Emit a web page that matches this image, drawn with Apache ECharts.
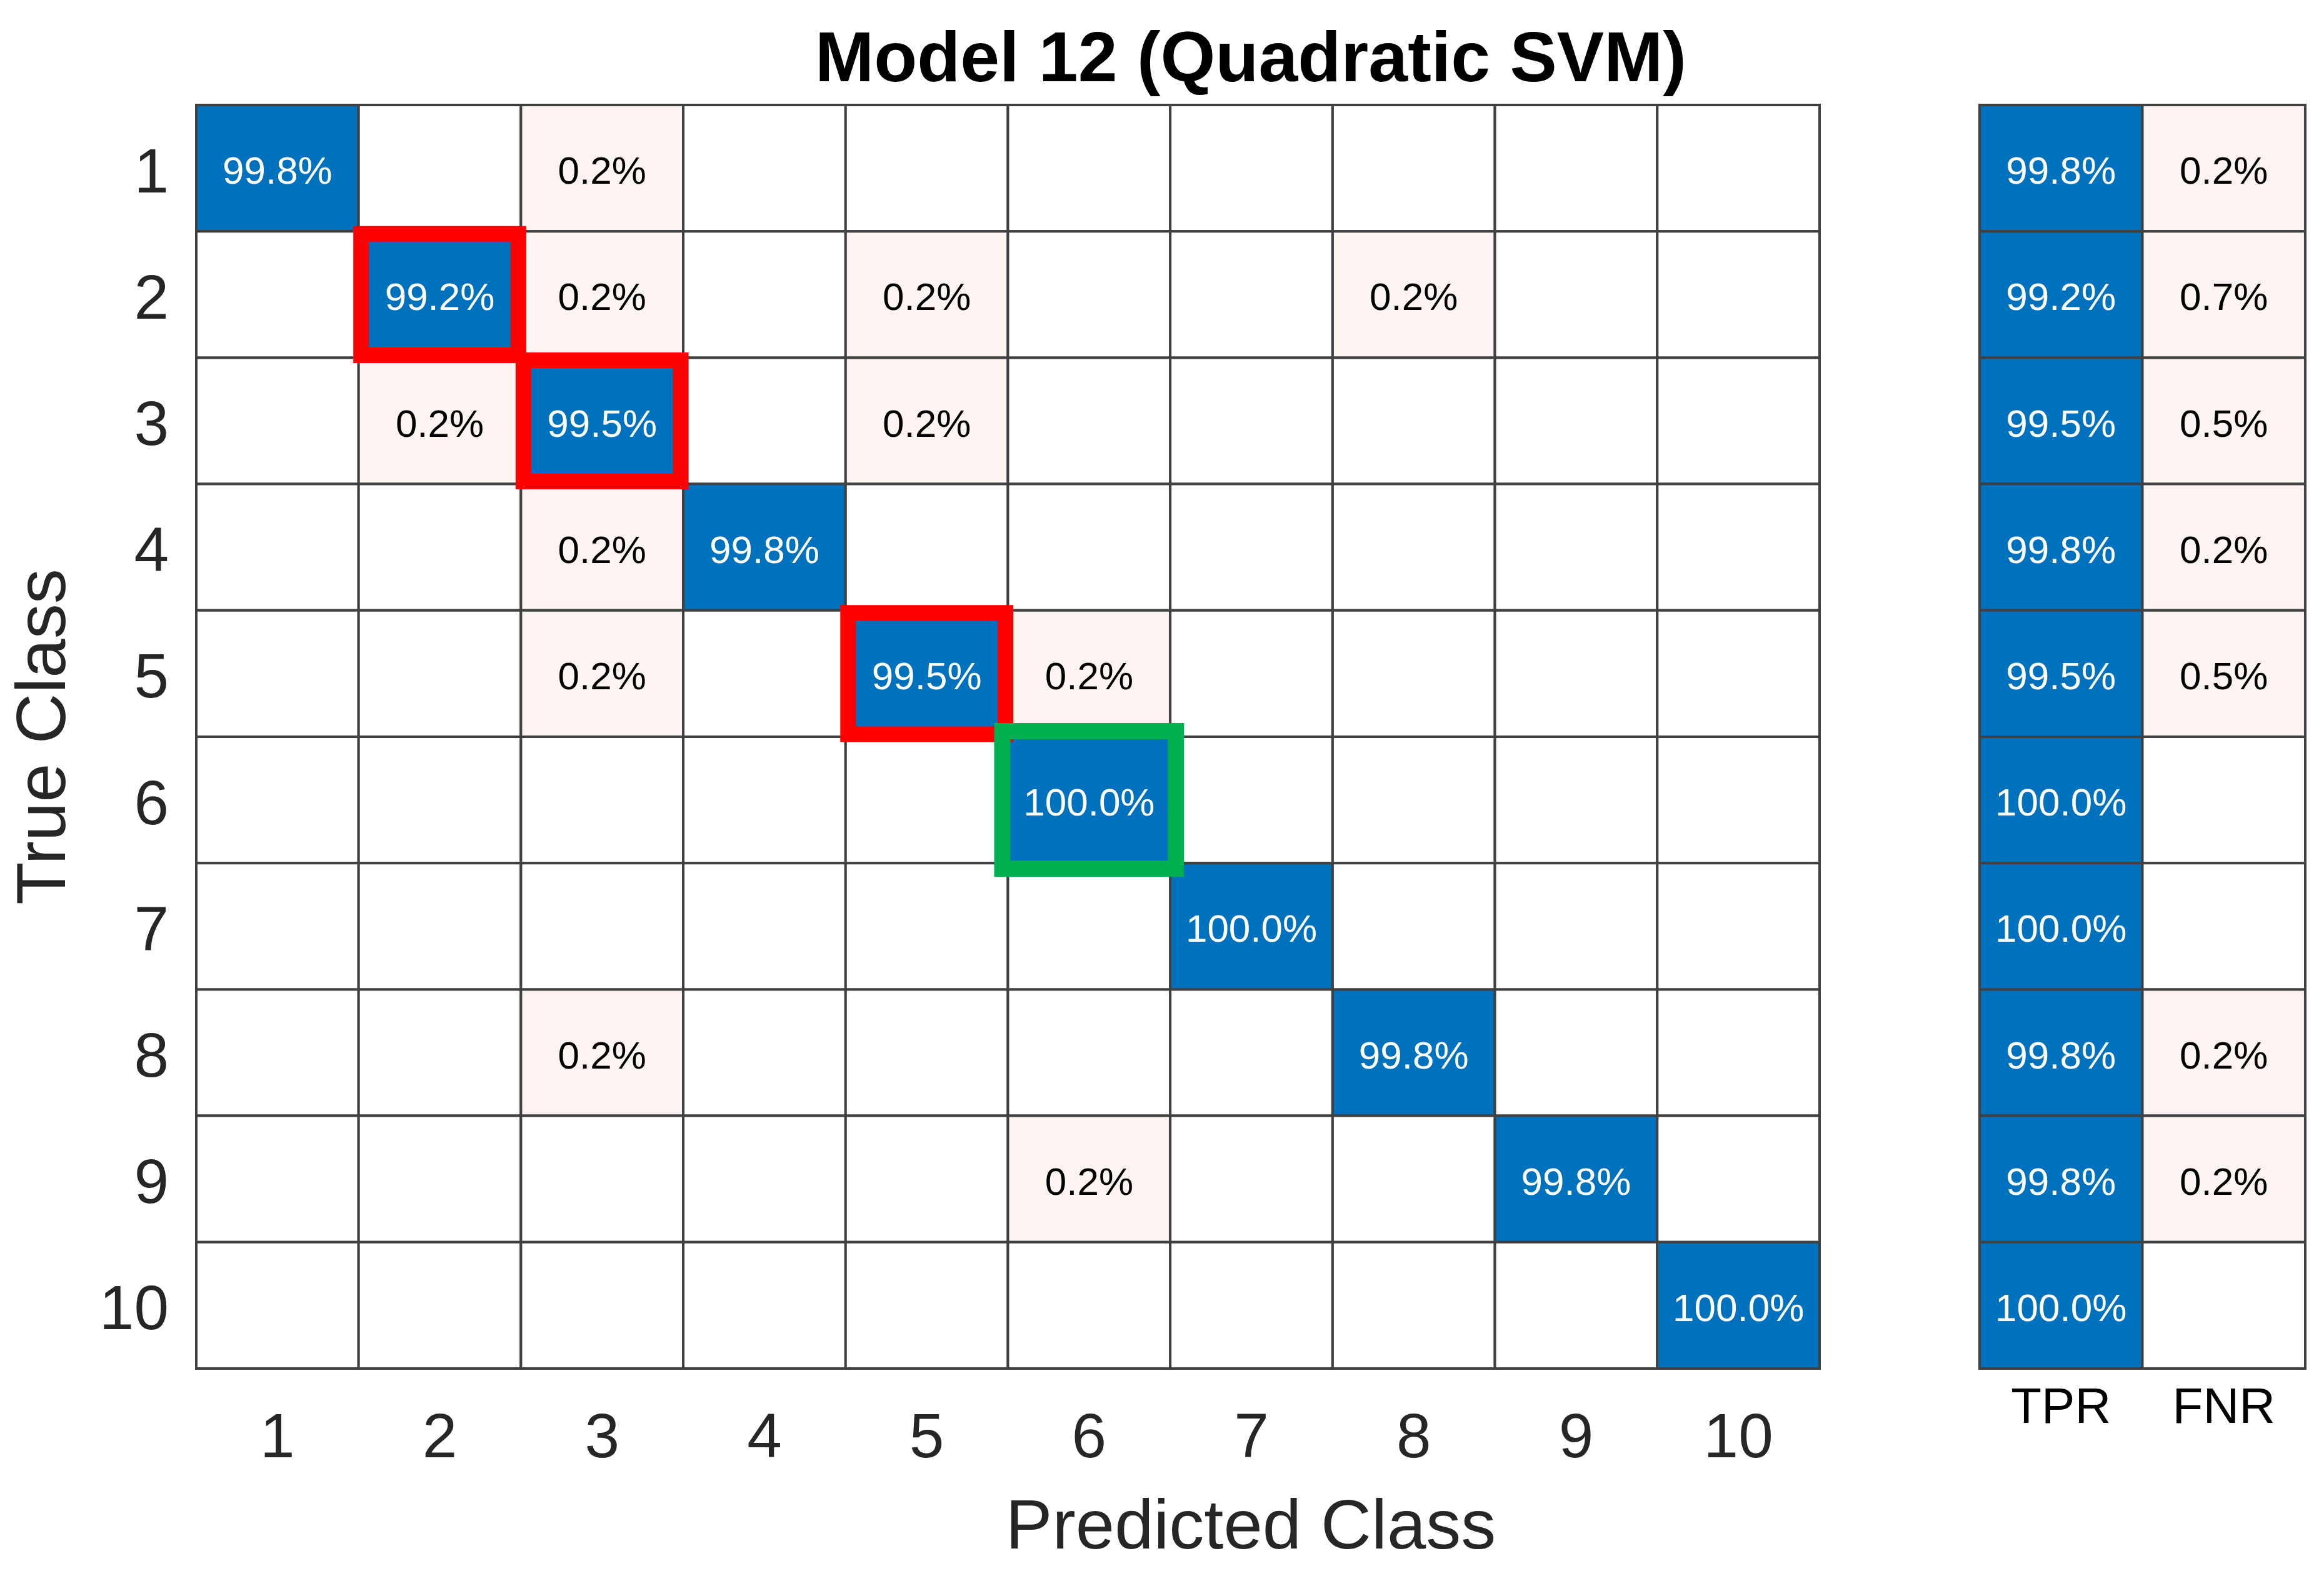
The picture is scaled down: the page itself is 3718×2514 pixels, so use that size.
<!DOCTYPE html>
<html>
<head>
<meta charset="utf-8">
<style>html,body{margin:0;padding:0;background:#fff;}#c{width:3718px;height:2514px;}</style>
<script src="https://cdn.jsdelivr.net/npm/echarts@6/dist/echarts.min.js"></script>
</head>
<body>
<div id="c"></div>
<script>
// ---- data ----
const classes = ['1','2','3','4','5','6','7','8','9','10'];
const rateLabels = ['TPR','FNR'];
// confusion matrix (row = true class, col = predicted class), percent; 0 = empty cell
const row1  = [99.8, 0,    0.2, 0,    0,    0,     0,     0,    0,    0];
const row2  = [0,    99.2, 0.2, 0,    0.2,  0,     0,     0.2,  0,    0];
const row3  = [0,    0.2,  99.5,0,    0.2,  0,     0,     0,    0,    0];
const row4  = [0,    0,    0.2, 99.8, 0,    0,     0,     0,    0,    0];
const row5  = [0,    0,    0.2, 0,    99.5, 0.2,   0,     0,    0,    0];
const row6  = [0,    0,    0,   0,    0,    100.0, 0,     0,    0,    0];
const row7  = [0,    0,    0,   0,    0,    0,     100.0, 0,    0,    0];
const row8  = [0,    0,    0.2, 0,    0,    0,     0,     99.8, 0,    0];
const row9  = [0,    0,    0,   0,    0,    0.2,   0,     0,    99.8, 0];
const row10 = [0,    0,    0,   0,    0,    0,     0,     0,    0,    100.0];
const confusion = [row1,row2,row3,row4,row5,row6,row7,row8,row9,row10];
const tpr = [99.8, 99.2, 99.5, 99.8, 99.5, 100.0, 100.0, 99.8, 99.8, 100.0];
const fnr = [0.2, 0.7, 0.5, 0.2, 0.5, 0, 0, 0.2, 0.2, 0];
// highlighted cells [trueClass, predictedClass]
const redBoxes = [[2,2],[3,3],[5,5]];
const greenBoxes = [[6,6]];

// ---- build series data ----
const cellData = [];
confusion.forEach((row, r) => row.forEach((v, c) => cellData.push([c, r, v, r === c ? 1 : 0])));
const rateData = [];
tpr.forEach((v, r) => rateData.push([0, r, v, 1]));
fnr.forEach((v, r) => rateData.push([1, r, v, 0]));
const redData = redBoxes.map(b => [b[1]-1, b[0]-1]);
const greenData = greenBoxes.map(b => [b[1]-1, b[0]-1]);

const BLUE = '#0072BD', LIGHT = '#FDF4F1', LINE = '#404040';
const FONT = '"Liberation Sans", Arial, Helvetica, sans-serif';

function cellRender(params, api) {
  const c = api.value(0), r = api.value(1), v = api.value(2), diag = api.value(3);
  const p = api.coord([c, r]);
  const s = api.size([1, 1]);
  let fill = '#ffffff';
  if (v > 0) fill = diag ? BLUE : LIGHT;
  return {
    type: 'group',
    children: [
      { type: 'rect', shape: { x: p[0]-s[0]/2, y: p[1]-s[1]/2, width: s[0], height: s[1] },
        style: { fill: fill, stroke: LINE, lineWidth: 4 } },
      { type: 'text', style: { x: p[0], y: p[1] + 8, text: v > 0 ? v.toFixed(1) + '%' : '',
        fill: diag ? '#ffffff' : '#000000', font: '62px ' + FONT, align: 'center', verticalAlign: 'middle' } }
    ]
  };
}
function boxRender(color, grow, lw) {
  return function(params, api) {
    const p = api.coord([api.value(0), api.value(1)]);
    const s = api.size([1, 1]);
    return { type: 'rect',
      shape: { x: p[0]-s[0]/2-grow, y: p[1]-s[1]/2-grow, width: s[0]+2*grow, height: s[1]+2*grow },
      style: { fill: null, stroke: color, lineWidth: lw } };
  };
}

const labelStyle = { fontSize: 100, color: '#262626', fontFamily: FONT };

const chart = echarts.init(document.getElementById('c'), null, { renderer: 'canvas' });
chart.setOption({
  backgroundColor: '#ffffff',
  animation: false,
  title: [
    { text: 'Model 12 (Quadratic SVM)', left: 2001, top: 42, textAlign: 'center', padding: 0,
      textStyle: { fontSize: 113, fontWeight: 'bold', color: '#000', fontFamily: FONT, lineHeight: 113 } },
    { text: 'Predicted Class', left: 2001, top: 2391, textAlign: 'center', padding: 0,
      textStyle: { fontSize: 112, fontWeight: 'normal', color: '#262626', fontFamily: FONT, lineHeight: 112 } }
  ],
  grid: [
    { left: 314, top: 168, width: 2597, height: 2022 },
    { left: 3167, top: 168, width: 521, height: 2022 }
  ],
  xAxis: [
    { type: 'category', gridIndex: 0, data: classes, position: 'bottom',
      axisLine: { show: false }, axisTick: { show: false }, splitLine: { show: false },
      axisLabel: Object.assign({ margin: 64, lineHeight: 100 }, labelStyle) },
    { type: 'category', gridIndex: 1, data: rateLabels, position: 'bottom',
      axisLine: { show: false }, axisTick: { show: false }, splitLine: { show: false },
      axisLabel: { margin: 25, fontSize: 80, lineHeight: 80, color: '#000', fontFamily: FONT } }
  ],
  yAxis: [
    { type: 'category', gridIndex: 0, data: classes, inverse: true,
      axisLine: { show: false }, axisTick: { show: false }, splitLine: { show: false },
      axisLabel: Object.assign({ margin: 44, formatter: '{a|{value}}',
        rich: { a: { fontSize: 100, color: '#262626', fontFamily: FONT, lineHeight: 100, padding: [22, 0, 0, 0] } } }, labelStyle),
      name: 'True Class', nameLocation: 'middle', nameRotate: 90, nameGap: 185,
      nameTextStyle: { fontSize: 112, color: '#262626', fontFamily: FONT } },
    { type: 'category', gridIndex: 1, data: classes, inverse: true,
      axisLine: { show: false }, axisTick: { show: false }, splitLine: { show: false },
      axisLabel: { show: false } }
  ],
  series: [
    { type: 'custom', xAxisIndex: 0, yAxisIndex: 0, data: cellData, renderItem: cellRender, z: 2, clip: false },
    { type: 'custom', xAxisIndex: 1, yAxisIndex: 1, data: rateData, renderItem: cellRender, z: 2, clip: false },
    { type: 'custom', xAxisIndex: 0, yAxisIndex: 0, data: redData, renderItem: boxRender('#FF0000', -4, 25), z: 5, clip: false },
    { type: 'custom', xAxisIndex: 0, yAxisIndex: 0, data: greenData, renderItem: boxRender('#00B050', 9, 26), z: 5, clip: false }
  ]
});
</script>
</body>
</html>
